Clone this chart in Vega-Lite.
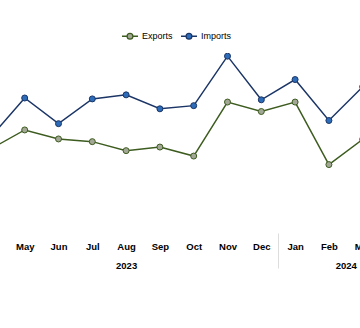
{
  "$schema": "https://vega.github.io/schema/vega-lite/v6.json",
  "width": 439.4,
  "height": 180,
  "autosize": "none",
  "padding": {"left": -26, "top": 53, "right": -53.4, "bottom": 95},
  "data": {
    "values": [
      {"month": "2023-04", "i": 0, "series": "Exports", "value": 18.7},
      {"month": "2023-05", "i": 1, "series": "Exports", "value": 22.9},
      {"month": "2023-06", "i": 2, "series": "Exports", "value": 20.9},
      {"month": "2023-07", "i": 3, "series": "Exports", "value": 20.3},
      {"month": "2023-08", "i": 4, "series": "Exports", "value": 18.3},
      {"month": "2023-09", "i": 5, "series": "Exports", "value": 19.1},
      {"month": "2023-10", "i": 6, "series": "Exports", "value": 17.1},
      {"month": "2023-11", "i": 7, "series": "Exports", "value": 29.1},
      {"month": "2023-12", "i": 8, "series": "Exports", "value": 27.0},
      {"month": "2024-01", "i": 9, "series": "Exports", "value": 29.1},
      {"month": "2024-02", "i": 10, "series": "Exports", "value": 15.2},
      {"month": "2024-03", "i": 11, "series": "Exports", "value": 20.8},
      {"month": "2024-04", "i": 12, "series": "Exports", "value": 22.0},
      {"month": "2023-04", "i": 0, "series": "Imports", "value": 21.4},
      {"month": "2023-05", "i": 1, "series": "Imports", "value": 30.0},
      {"month": "2023-06", "i": 2, "series": "Imports", "value": 24.3},
      {"month": "2023-07", "i": 3, "series": "Imports", "value": 29.8},
      {"month": "2023-08", "i": 4, "series": "Imports", "value": 30.7},
      {"month": "2023-09", "i": 5, "series": "Imports", "value": 27.6},
      {"month": "2023-10", "i": 6, "series": "Imports", "value": 28.3},
      {"month": "2023-11", "i": 7, "series": "Imports", "value": 39.3},
      {"month": "2023-12", "i": 8, "series": "Imports", "value": 29.6},
      {"month": "2024-01", "i": 9, "series": "Imports", "value": 34.1},
      {"month": "2024-02", "i": 10, "series": "Imports", "value": 25.0},
      {"month": "2024-03", "i": 11, "series": "Imports", "value": 32.5},
      {"month": "2024-04", "i": 12, "series": "Imports", "value": 30.0}
    ]
  },
  "encoding": {
    "x": {"field": "i", "type": "quantitative", "scale": {"domain": [-0.5, 12.5], "nice": false, "zero": false}},
    "y": {"field": "value", "type": "quantitative", "scale": {"domain": [0, 40], "nice": false}}
  },
  "layer": [
    {
      "mark": {"type": "line", "strokeWidth": 1.5, "clip": true},
      "encoding": {
        "x": {"field": "i", "type": "quantitative", "scale": {"domain": [-0.5, 12.5], "nice": false, "zero": false},
          "axis": {"orient": "bottom", "title": null, "values": [1,2,3,4,5,6,7,8,9,10,11,12],
            "labelExpr": "['Apr','May','Jun','Jul','Aug','Sep','Oct','Nov','Dec','Jan','Feb','Mar','Apr'][datum.value]",
            "ticks": false, "domain": false, "grid": false, "labelPadding": 8, "labelFlush": false, "labelOverlap": false}},
        "y": {"field": "value", "type": "quantitative", "scale": {"domain": [0, 40], "nice": false},
          "axis": {"title": null, "values": [0,10,20,30,40], "labels": false, "ticks": false, "domain": false, "grid": true, "gridColor": "#e3e3e3", "gridWidth": 1.5}},
        "stroke": {"field": "series", "type": "nominal", "scale": {"domain": ["Exports", "Imports"], "range": ["#3d5c1f", "#1b3566"]},
          "legend": {"orient": "none", "legendX": 147, "legendY": -26, "direction": "horizontal", "title": null, "padding": 0,
            "symbolType": "M-1,0H-0.36A0.36,0.36 0 1 1 0.36,0A0.36,0.36 0 1 1 -0.36,0M0.36,0H1", "symbolSize": 256, "symbolStrokeWidth": 1.3,
            "labelFontSize": 9, "labelColor": "#000000", "labelOffset": 3, "columnPadding": 5}}
      }
    },
    {
      "mark": {"type": "point", "filled": true, "size": 36, "strokeWidth": 1, "opacity": 1, "clip": true},
      "encoding": {
        "x": {"field": "i", "type": "quantitative", "scale": {"domain": [-0.5, 12.5], "nice": false, "zero": false},
          "axis": {"orient": "bottom", "title": null, "values": [4, 8.5, 10.5],
            "labelExpr": "datum.value == 4 ? '2023' : (datum.value == 10.5 ? '2024' : '')",
            "ticks": true, "tickSize": 35, "tickColor": "#dddddd", "tickWidth": 1,
            "tickOpacity": {"condition": {"test": "datum.value == 8.5", "value": 1}, "value": 0},
            "domain": false, "grid": false, "labelPadding": -8, "labelFlush": false, "labelOverlap": false}},
        "y": {"field": "value", "type": "quantitative", "axis": null},
        "fill": {"field": "series", "type": "nominal", "scale": {"domain": ["Exports", "Imports"], "range": ["#a3a796", "#2c6cb8"]}},
        "stroke": {"field": "series", "type": "nominal"}
      }
    }
  ],
  "resolve": {"axis": {"x": "independent"}},
  "config": {
    "font": "Liberation Sans, Arial, sans-serif",
    "view": {"stroke": null},
    "axis": {"labelFontSize": 9.5, "labelFontWeight": "bold", "labelColor": "#000000", "labelFont": "Liberation Sans, Arial, sans-serif"},
    "legend": {"labelFont": "Liberation Sans, Arial, sans-serif"}
  }
}
